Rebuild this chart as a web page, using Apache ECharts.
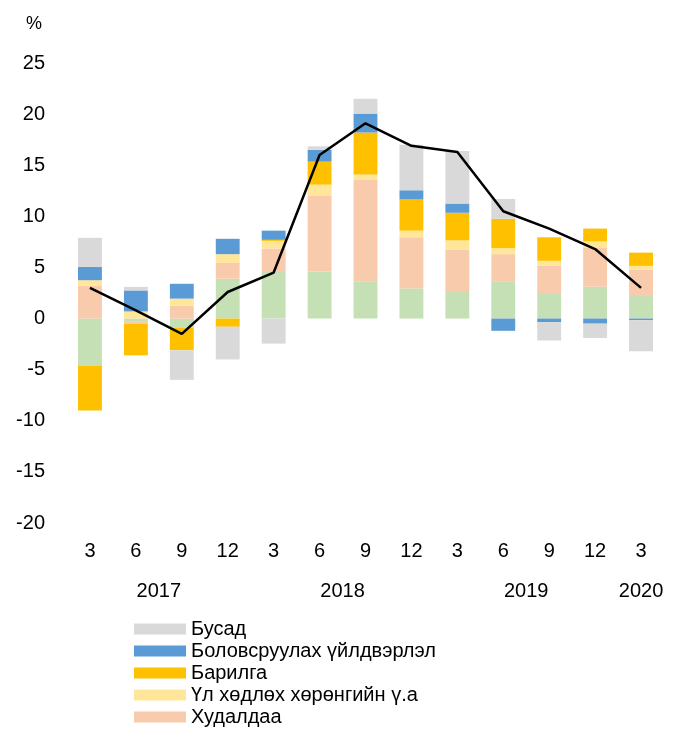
<!DOCTYPE html>
<html>
<head>
<meta charset="utf-8">
<script src="https://cdn.jsdelivr.net/npm/echarts@6/dist/echarts.min.js"></script>
<style>
  html, body { margin: 0; padding: 0; background: #fff; }
  #chart { width: 681px; height: 729px; }
</style>
</head>
<body>
<div id="chart"></div>
<script>
// --- data ---
const quarters = ['3', '6', '9', '12', '3', '6', '9', '12', '3', '6', '9', '12', '3'];
const yearLabels = { 2: '2017', 6: '2018', 10: '2019', 12.5: '2020' };

const agriculture  = [-4.6, -0.25, -0.9, 3.9, 4.55, 4.6, 3.65, 2.95, 2.7, 3.65, 2.4, 3.1, 2.2];
const trade        = [3.2, -0.25, 1.25, 1.55, 2.3, 7.4, 9.9, 5.0, 4.05, 2.65, 2.75, 3.8, 2.6];
const realEstate   = [0.55, 0.7, 0.7, 0.85, 0.75, 1.1, 0.55, 0.65, 0.9, 0.6, 0.5, 0.65, 0.35];
const construction = [-4.4, -3.1, -2.2, -0.8, 0.1, 2.25, 4.1, 3.05, 2.7, 2.85, 2.3, 1.25, 1.3];
const manufacturing= [1.3, 2.05, 1.45, 1.5, 0.9, 1.15, 1.85, 0.9, 0.9, -1.2, -0.35, -0.5, -0.15];
const other        = [2.85, 0.35, -2.9, -3.2, -2.45, 0.35, 1.45, 4.45, 5.15, 1.95, -1.8, -1.4, -3.05];
const total        = [3.0, 0.8, -1.5, 2.6, 4.5, 16.0, 19.1, 16.9, 16.3, 10.5, 8.8, 6.8, 3.0];

const COLORS = {
  agriculture: '#C5E0B4',
  trade: '#F8CBAD',
  realEstate: '#FFE699',
  construction: '#FFC000',
  manufacturing: '#5B9BD5',
  other: '#D9D9D9'
};

const FONT = 'Liberation Sans, Arial, sans-serif';
const FS = 20;

const chart = echarts.init(document.getElementById('chart'));

const bar = (name, data, color) => ({
  name: name,
  type: 'bar',
  stack: 'total',
  barWidth: '52%',
  data: data,
  itemStyle: { color: color },
  emphasis: { disabled: true }
});

chart.setOption({
  animation: false,
  backgroundColor: '#fff',
  textStyle: { fontFamily: FONT },
  grid: { left: 67, right: 17, top: 63, height: 460 },
  legend: {
    orient: 'vertical',
    left: 129,
    top: 614,
    height: 115,
    itemWidth: 52,
    itemHeight: 11,
    itemGap: 2,
    icon: 'rect',
    data: ['Бусад', 'Боловсруулах үйлдвэрлэл', 'Барилга', 'Үл хөдлөх хөрөнгийн ү.а', 'Худалдаа'],
    textStyle: { fontSize: FS, lineHeight: 20, color: '#000', fontFamily: FONT }
  },
  xAxis: [
    {
      type: 'category',
      data: quarters,
      axisLine: { show: false },
      axisTick: { show: false },
      axisLabel: { color: '#000', fontSize: FS, margin: 18, fontFamily: FONT }
    },
    {
      type: 'value',
      position: 'bottom',
      offset: 40,
      min: 0,
      max: 13,
      interval: 0.5,
      axisLine: { show: false },
      axisTick: { show: false },
      splitLine: { show: false },
      axisLabel: {
        color: '#000',
        fontSize: FS,
        margin: 18,
        fontFamily: FONT,
        formatter: v => yearLabels[v] || ''
      }
    }
  ],
  yAxis: {
    type: 'value',
    min: -20,
    max: 25,
    interval: 5,
    name: '%',
    nameLocation: 'end',
    nameGap: 30,
    nameTextStyle: { color: '#000', fontSize: 18, align: 'right', padding: [0, 25, 0, 0] },
    axisLine: { show: false },
    axisTick: { show: false },
    splitLine: { show: false },
    axisLabel: { color: '#000', fontSize: FS, margin: 22, fontFamily: FONT }
  },
  series: [
    bar('Хөдөө аж ахуй', agriculture, COLORS.agriculture),
    bar('Худалдаа', trade, COLORS.trade),
    bar('Үл хөдлөх хөрөнгийн ү.а', realEstate, COLORS.realEstate),
    bar('Барилга', construction, COLORS.construction),
    bar('Боловсруулах үйлдвэрлэл', manufacturing, COLORS.manufacturing),
    bar('Бусад', other, COLORS.other),
    {
      name: 'Нийт',
      type: 'line',
      data: total,
      symbol: 'none',
      lineStyle: { color: '#000', width: 2.5 },
      z: 10
    }
  ]
});
</script>
</body>
</html>
